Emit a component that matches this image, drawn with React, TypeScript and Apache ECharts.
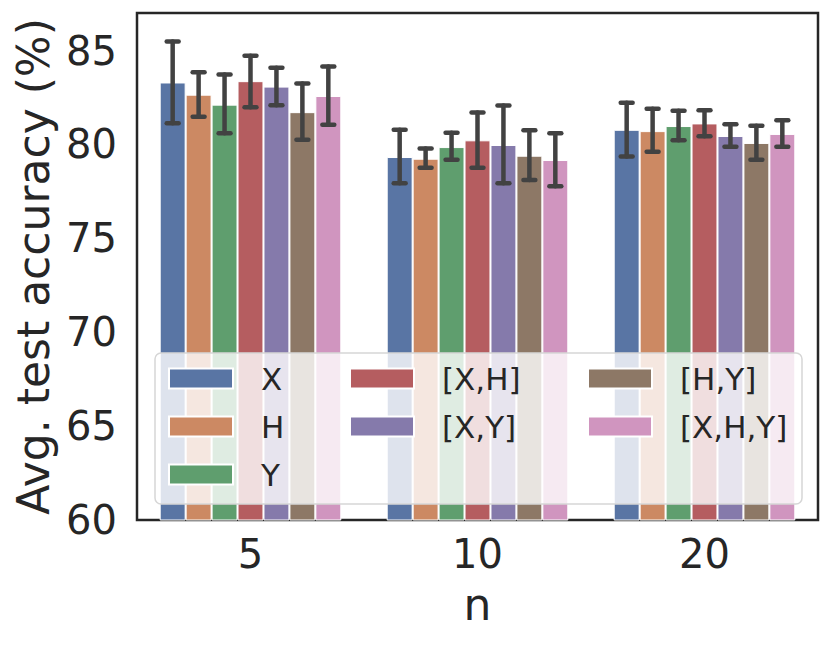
import React, { useEffect, useRef } from "react";
import * as echarts from "echarts";

const categories = ["5", "10", "20"];
const seriesNames = ["X", "H", "Y", "[X,H]", "[X,Y]", "[H,Y]", "[X,H,Y]"];
const colors = ["#5975a4", "#cc8963", "#5f9e6e", "#b55d60", "#857aab", "#8d7866", "#d095bf"];

// mean values per series, for n = 5, 10, 20
const meanX = [83.3, 79.33, 80.78];
const meanH = [82.65, 79.24, 80.71];
const meanY = [82.12, 79.86, 80.98];
const meanXH = [83.37, 80.22, 81.12];
const meanXY = [83.08, 79.97, 80.45];
const meanHY = [81.72, 79.4, 80.08];
const meanXHY = [82.58, 79.17, 80.56];

// error bar [low, high] per series, for n = 5, 10, 20
const errX = [[81.13, 85.48], [77.94, 80.78], [79.36, 82.22]];
const errH = [[81.47, 83.85], [78.76, 79.79], [79.61, 81.9]];
const errY = [[80.6, 83.72], [79.18, 80.62], [80.23, 81.79]];
const errXH = [[81.98, 84.73], [78.76, 81.7], [80.44, 81.82]];
const errXY = [[82.09, 84.08], [77.94, 82.07], [79.88, 81.08]];
const errHY = [[80.25, 83.24], [78.1, 80.76], [79.18, 80.99]];
const errXHY = [[81.05, 84.15], [77.77, 80.6], [79.88, 81.29]];

const yTicks = { min: 60, max: 87, interval: 5 };

const means = [meanX, meanH, meanY, meanXH, meanXY, meanHY, meanXHY];
const errs = [errX, errH, errY, errXH, errXY, errHY, errXHY];

const FONT = "DejaVu Sans";
const TEXT = "#262626";

export default function App() {
  const ref = useRef<HTMLDivElement>(null);
  useEffect(() => {
    document.body.style.margin = "0";
    const chart = echarts.init(ref.current!, null, { renderer: "svg" });
    const n = seriesNames.length;
    const barSeries = seriesNames.map((name, i) => ({
      name,
      type: "bar",
      data: means[i],
      barGap: "0%",
      barCategoryGap: "20%",
      itemStyle: { color: colors[i], borderColor: "#ffffff", borderWidth: 1 },
      z: 2,
    }));
    const errSeries = seriesNames.map((name, i) => ({
      name: name + "_err",
      type: "custom",
      z: 3,
      data: errs[i].map((e, c) => [c, e[0], e[1]]),
      renderItem: (params: any, api: any) => {
        const c = api.value(0);
        const lo = api.coord([c, api.value(1)]);
        const hi = api.coord([c, api.value(2)]);
        const bw = api.size([1, 0])[0];
        const barW = (0.8 * bw) / n;
        const x = lo[0] - 0.4 * bw + (i + 0.5) * barW;
        const half = 0.23 * barW;
        const style = { stroke: "#424242", lineWidth: 4.5, lineCap: "round" };
        return {
          type: "group",
          children: [
            { type: "line", shape: { x1: x, y1: lo[1], x2: x, y2: hi[1] }, style },
            { type: "line", shape: { x1: x - half, y1: lo[1], x2: x + half, y2: lo[1] }, style },
            { type: "line", shape: { x1: x - half, y1: hi[1], x2: x + half, y2: hi[1] }, style },
          ],
        };
      },
    }));
    const legendBase = {
      orient: "vertical",
      top: 363,
      padding: 0,
      itemWidth: 64,
      itemHeight: 20,
      itemGap: 17,
      icon: "rect",
      selectedMode: false,
      z: 20,
      textStyle: {
        fontFamily: FONT,
        fontSize: 31,
        color: TEXT,
        padding: [0, 0, 0, 23],
      },
    };
    chart.setOption({
      animation: false,
      backgroundColor: "#ffffff",
      textStyle: { fontFamily: FONT },
      grid: {
        left: 137,
        right: 13,
        top: 13,
        bottom: 125,
        show: true,
        borderColor: "#262626",
        borderWidth: 2.5,
        backgroundColor: "transparent",
        containLabel: false,
      },
      graphic: [
        {
          type: "rect",
          z: 10,
          shape: { x: 155, y: 353, width: 647, height: 151, r: 6 },
          style: { fill: "rgba(255,255,255,0.8)", stroke: "#d6d6d6", lineWidth: 1.5 },
        },
      ],
      legend: [
        { ...legendBase, left: 168, data: seriesNames.slice(0, 3) },
        { ...legendBase, left: 349, data: seriesNames.slice(3, 5) },
        { ...legendBase, left: 587, data: seriesNames.slice(5, 7) },
      ],
      xAxis: {
        type: "category",
        data: categories,
        axisLine: { show: false },
        axisTick: { show: false },
        axisLabel: { fontSize: 40, color: TEXT, fontFamily: FONT, margin: 14 },
        name: "n",
        nameLocation: "middle",
        nameGap: 62,
        nameTextStyle: { fontSize: 44, color: TEXT, fontFamily: FONT },
      },
      yAxis: {
        type: "value",
        min: yTicks.min,
        max: yTicks.max,
        interval: yTicks.interval,
        axisLine: { show: false },
        axisTick: { show: false },
        splitLine: { show: false },
        axisLabel: { fontSize: 40, color: TEXT, fontFamily: FONT, margin: 20, showMaxLabel: false },
        name: "Avg. test accuracy (%)",
        nameLocation: "middle",
        nameGap: 78,
        nameTextStyle: { fontSize: 44, color: TEXT, fontFamily: FONT },
      },
      series: [...barSeries, ...errSeries],
    });
    return () => chart.dispose();
  }, []);
  return <div ref={ref} style={{ position: "absolute", left: 0, top: 0, width: 831, height: 645 }} />;
}
